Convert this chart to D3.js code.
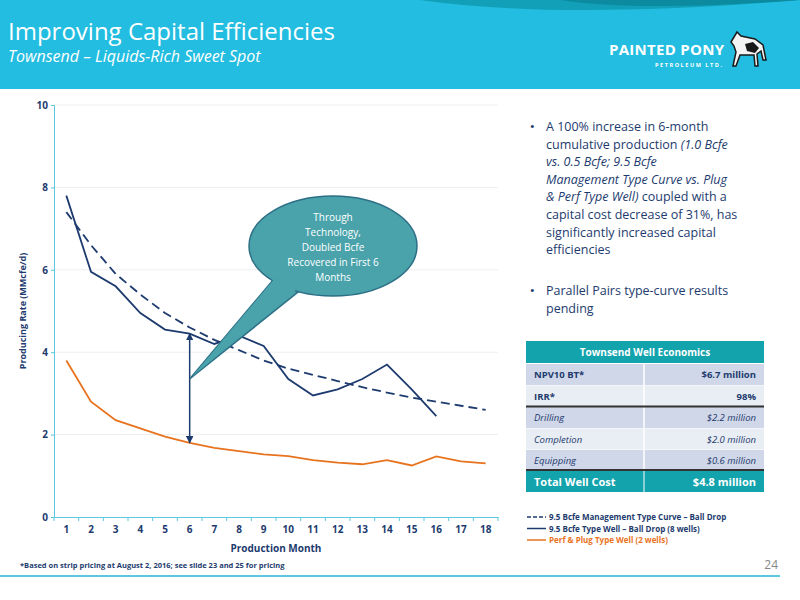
<!DOCTYPE html><html><head><meta charset="utf-8">
<script src="https://cdn.jsdelivr.net/npm/d3@7"></script>
<style>body{margin:0;}</style></head><body>
<svg id="c" width="800" height="600"></svg>
<script>
const months=d3.range(1,19);
const typeCurve=[7.4,6.6,5.9,5.4,4.95,4.6,4.3,4.05,3.8,3.6,3.45,3.3,3.15,3.02,2.9,2.8,2.7,2.6];
const typeWell=[7.8,5.95,5.6,4.95,4.55,4.45,4.2,4.4,4.15,3.35,2.95,3.1,3.35,3.7,3.1,2.45];
const perfPlug=[3.8,2.8,2.35,2.15,1.95,1.8,1.68,1.6,1.52,1.48,1.38,1.32,1.28,1.38,1.25,1.47,1.35,1.3];
const yTicks=[0,2,4,6,8,10];
const tableRows=[["NPV10 BT*","$6.7 million"],["IRR*","98%"],["Drilling","$2.2 million"],["Completion","$2.0 million"],["Equipping","$0.6 million"]];

const svg=d3.select("#c");
const F="'Open Sans',sans-serif";
svg.append("rect").attr("width",800).attr("height",600).attr("fill","#fff");
svg.append("rect").attr("width",800).attr("height",89).attr("fill","#22bde0");
svg.append("path").attr("d","M420,0 Q560,20 800,0 Z").attr("fill","#12a0b8");
svg.append("path").attr("d","M560,0 Q640,12 800,0 Z").attr("fill","#0b8aa0");
svg.append("text").attr("x",8).attr("y",40).attr("fill","#fff").attr("font-size",24).attr("font-family",F).text("Improving Capital Efficiencies");
svg.append("text").attr("x",8).attr("y",62).attr("fill","#fff").attr("font-size",16).attr("font-style","italic").attr("font-family",F).text("Townsend – Liquids-Rich Sweet Spot");
svg.append("text").attr("x",609).attr("y",55).attr("fill","#fff").attr("font-size",15).attr("font-weight","bold").attr("font-family",F).attr("textLength",115).text("PAINTED PONY");
svg.append("text").attr("x",655).attr("y",67).attr("fill","#fff").attr("font-size",5.5).attr("font-weight","bold").attr("font-family",F).attr("textLength",67).text("PETROLEUM LTD.");
svg.append("path").attr("d","M731,42 l6,-10 l4,4 l14,3 l8,6 l3,15 l-3,0 l-2,-9 l-4,3 l1,12 l-3,0 l-1,-11 l-14,0 l-4,11 l-3,0 l3,-14 l-2,-6 z").attr("fill","#f4f4f4").attr("stroke","#1a1a1a").attr("stroke-width",1.5);
svg.append("path").attr("d","M745,44 l8,-2 l6,6 l-4,5 l-8,-2 z").attr("fill","#1a1a1a");

const x=d3.scaleBand().domain(months).range([54,498]);
const y=d3.scaleLinear().domain([0,10]).range([517,105]);
const cx=m=>x(m)+x.bandwidth()/2;
const g=svg.append("g");
g.selectAll(".gl").data(yTicks.slice(1)).join("line").attr("x1",54).attr("x2",498).attr("y1",d=>y(d)).attr("y2",d=>y(d)).attr("stroke","#eee");
const ya=g.append("g").attr("transform","translate(54,0)").call(d3.axisLeft(y).tickValues(yTicks).tickSize(3));
const xa=g.append("g").attr("transform","translate(0,517)").call(d3.axisBottom(x).tickSize(0).tickPadding(9));
[ya,xa].forEach(a=>{a.select(".domain").attr("stroke","#5bc8e0");a.selectAll("text").attr("fill","#1d3b6e").attr("font-size",10).attr("font-family",F).attr("font-weight","bold");a.selectAll("line").attr("stroke","#5bc8e0");});
g.selectAll(".xt").data(d3.range(19)).join("line").attr("x1",d=>54+d*x.step()).attr("x2",d=>54+d*x.step()).attr("y1",517).attr("y2",521).attr("stroke","#5bc8e0");
svg.append("text").attr("x",276).attr("y",552).attr("text-anchor","middle").attr("fill","#1d3b6e").attr("font-size",10).attr("font-weight","bold").attr("font-family",F).text("Production Month");
svg.append("text").attr("transform","translate(26,311) rotate(-90)").attr("text-anchor","middle").attr("fill","#1d3b6e").attr("font-size",9).attr("font-weight","bold").attr("font-family",F).text("Producing Rate (MMcfe/d)");
const line=d3.line().x((d,i)=>cx(i+1)).y(d=>y(d));
svg.append("path").attr("d",line(typeCurve)).attr("fill","none").attr("stroke","#1d3b6e").attr("stroke-width",1.8).attr("stroke-dasharray","9,5");
svg.append("path").attr("d",line(typeWell)).attr("fill","none").attr("stroke","#1d3b6e").attr("stroke-width",1.8);
svg.append("path").attr("d",line(perfPlug)).attr("fill","none").attr("stroke","#e8731e").attr("stroke-width",1.8);
const ax=cx(6);
svg.append("defs").html('<marker id="ar" viewBox="0 0 10 10" refX="9" refY="5" markerWidth="5" markerHeight="5" orient="auto-start-reverse"><path d="M0,0L10,5L0,10z" fill="#1d3b6e"/></marker>');
svg.append("line").attr("x1",ax).attr("x2",ax).attr("y1",y(4.45)).attr("y2",y(1.8)).attr("stroke","#1d3b6e").attr("stroke-width",1.5).attr("marker-start","url(#ar)").attr("marker-end","url(#ar)");
const tail=`M${ax},${y(3.35)} L273,280 L303,288 Z`;
svg.append("path").attr("d",tail).attr("fill","#4aa3ab").attr("stroke","#2c6f86").attr("stroke-width",1.5);
svg.append("ellipse").attr("cx",333).attr("cy",246).attr("rx",84).attr("ry",50).attr("fill","#4aa3ab").attr("stroke","#2c6f86").attr("stroke-width",1.5);
svg.append("path").attr("d",`M${ax+2},${y(3.35)-2} L275,278 L303,284 Z`).attr("fill","#4aa3ab");
["Through","Technology,","Doubled Bcfe","Recovered in First 6","Months"].forEach((t,i)=>svg.append("text").attr("x",333).attr("y",221+i*15).attr("text-anchor","middle").attr("fill","#fff").attr("font-size",10).attr("font-family",F).text(t));
svg.append("text").attr("x",20).attr("y",568).attr("fill","#1d3b6e").attr("font-size",7.5).attr("font-weight","bold").attr("font-family",F).text("*Based on strip pricing at August 2, 2016; see slide 23 and 25 for pricing");
const b1=[["A 100% increase in 6-month",0],["cumulative production ",0,"(1.0 Bcfe"],["vs. 0.5 Bcfe; 9.5 Bcfe",1],["Management Type Curve vs. Plug",1],["& Perf Type Well)",1," coupled with a"],["capital cost decrease of 31%, has",0],["significantly increased capital",0],["efficiencies",0]];
b1.forEach((r,i)=>{const t=svg.append("text").attr("x",546).attr("y",131+i*17.6).attr("fill","#1d3b6e").attr("font-size",12.5).attr("font-family",F);
 t.append("tspan").attr("font-style",r[1]?"italic":null).text(r[0]);
 if(r[2]) t.append("tspan").attr("font-style",i==1?"italic":null).text(r[2]);});
svg.append("text").attr("x",530).attr("y",131).attr("fill","#1d3b6e").attr("font-size",13).text("•");
svg.append("text").attr("x",530).attr("y",295).attr("fill","#1d3b6e").attr("font-size",13).text("•");
svg.append("text").attr("x",546).attr("y",295).attr("fill","#1d3b6e").attr("font-size",12.5).attr("font-family",F).text("Parallel Pairs type-curve results");
svg.append("text").attr("x",546).attr("y",313).attr("fill","#1d3b6e").attr("font-size",12.5).attr("font-family",F).text("pending");
const tx=526,tw=238,cw=118;
svg.append("rect").attr("x",tx).attr("y",341).attr("width",tw).attr("height",22).attr("fill","#12a3ad");
svg.append("text").attr("x",tx+tw/2).attr("y",356).attr("text-anchor","middle").attr("fill","#fff").attr("font-size",10).attr("font-weight","bold").attr("font-family",F).text("Townsend Well Economics");
tableRows.forEach((r,i)=>{const yy=364+i*21.5;const it=i>=2;
 svg.append("rect").attr("x",tx).attr("y",yy).attr("width",tw).attr("height",21).attr("fill",i%2==0?"#d0d7e8":"#e9edf4");
 svg.append("line").attr("x1",tx+cw).attr("x2",tx+cw).attr("y1",yy).attr("y2",yy+21).attr("stroke","#fff").attr("stroke-width",1.5);
 svg.append("text").attr("x",tx+8).attr("y",yy+14).attr("fill","#1d3b6e").attr("font-size",9.5).attr("font-weight",it?null:"bold").attr("font-style",it?"italic":null).attr("font-family",F).text(r[0]);
 svg.append("text").attr("x",tx+tw-8).attr("y",yy+14).attr("text-anchor","end").attr("fill","#1d3b6e").attr("font-size",9.5).attr("font-weight",it?null:"bold").attr("font-style",it?"italic":null).attr("font-family",F).text(r[1]);});
svg.append("line").attr("x1",tx).attr("x2",tx+tw).attr("y1",406.5).attr("y2",406.5).attr("stroke","#333").attr("stroke-width",2);
svg.append("line").attr("x1",tx).attr("x2",tx+tw).attr("y1",470).attr("y2",470).attr("stroke","#333").attr("stroke-width",2);
svg.append("rect").attr("x",tx).attr("y",471).attr("width",tw).attr("height",21).attr("fill","#12a3ad");
svg.append("line").attr("x1",tx+cw).attr("x2",tx+cw).attr("y1",471).attr("y2",492).attr("stroke","#fff");
svg.append("text").attr("x",tx+8).attr("y",486).attr("fill","#fff").attr("font-size",11).attr("font-weight","bold").attr("font-family",F).text("Total Well Cost");
svg.append("text").attr("x",tx+tw-8).attr("y",486).attr("text-anchor","end").attr("fill","#fff").attr("font-size",11).attr("font-weight","bold").attr("font-family",F).text("$4.8 million");
const leg=[["9.5 Bcfe Management Type Curve – Ball Drop","#1d3b6e","4,2"],["9.5 Bcfe Type Well – Ball Drop (8 wells)","#1d3b6e",null],["Perf & Plug Type Well (2 wells)","#e8731e",null]];
leg.forEach((l,i)=>{const yy=517+i*11.5;
 svg.append("line").attr("x1",527).attr("x2",546).attr("y1",yy).attr("y2",yy).attr("stroke",l[1]).attr("stroke-width",1.5).attr("stroke-dasharray",l[2]);
 svg.append("text").attr("x",549).attr("y",yy+3).attr("fill",l[1]).attr("font-size",8).attr("font-weight","bold").attr("font-family",F).text(l[0]);});
svg.append("text").attr("x",778).attr("y",569).attr("text-anchor","end").attr("fill","#888").attr("font-size",12).attr("font-family",F).text("24");
svg.append("line").attr("x1",0).attr("x2",780).attr("y1",576).attr("y2",576).attr("stroke","#5bc8e0").attr("stroke-width",2);
</script></body></html>
